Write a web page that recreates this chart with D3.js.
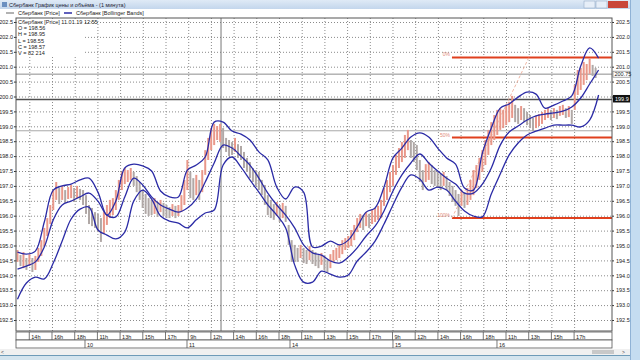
<!DOCTYPE html>
<meta charset="utf-8">
<style>
body { margin: 0; background: #fff; }
svg { display: block; font-family: "Liberation Sans", Arial, sans-serif; }
.grid line { stroke: #8a8a8a; stroke-dasharray: 1,2; }
.grid path { display: none; }
.yaxis text { font-size: 5.5px; fill: #222; }
.yaxis path { display: none; }
.yaxis line { stroke: #333; }
.band { fill: none; stroke: #2b2ba6; stroke-width: 1.3px; }
.tlab { font-size: 5.5px; fill: #222; }
</style>
<svg width="640" height="360"></svg>
<script src="https://d3js.org/d3.v7.min.js"></script>
<script>

// one price sample every bar, bands every 3 bars
var priceHigh = [194.85,194.68,194.78,194.58,194.71,194.58,194.65,194.92,195.18,195.59,
  195.92,196.36,196.86,197.13,196.93,197.00,196.86,196.96,197.03,196.93,
  197.00,196.90,196.86,196.69,196.36,196.26,196.12,196.06,195.92,196.12,
  196.36,196.53,196.59,196.86,197.20,197.47,197.60,197.53,197.60,197.47,
  197.33,197.13,196.86,196.73,196.59,196.53,196.59,196.46,196.53,196.43,
  196.36,196.29,196.39,196.33,196.36,196.69,197.20,197.87,197.47,197.26,
  197.37,197.20,197.53,198.20,198.61,198.94,199.08,199.01,199.08,198.94,
  198.61,198.54,198.47,198.61,198.40,198.34,198.14,197.94,197.80,197.60,
  197.53,197.47,197.20,197.03,196.69,196.53,196.39,196.46,196.36,196.43,
  196.33,195.69,195.18,195.02,194.92,195.02,194.92,194.85,194.98,194.85,
  194.78,194.68,194.75,194.65,194.51,194.71,194.85,194.92,195.02,195.18,
  195.25,195.32,195.52,195.69,195.92,196.06,196.02,196.12,196.06,196.19,
  196.26,196.33,196.53,196.93,197.20,197.47,197.70,198.04,198.27,198.47,
  198.71,198.88,198.54,198.47,198.37,197.87,197.53,197.73,197.80,197.70,
  197.53,197.47,197.40,197.47,197.33,197.13,197.00,196.86,196.73,196.86,
  196.79,196.93,197.20,197.53,197.70,197.94,198.20,198.54,198.88,199.14,
  199.38,199.55,199.61,199.55,199.72,199.82,200.02,199.72,199.61,199.68,
  199.61,199.48,199.38,199.28,199.35,199.41,199.48,199.55,199.61,199.55,
  199.61,199.55,199.68,199.72,199.61,199.68,199.55,200.39,200.89,200.96,
  201.16,201.09,201.29,201.06,200.96];
var priceLow = [194.45,194.31,194.24,194.18,194.31,194.11,194.18,194.45,194.65,194.98,
  195.32,195.72,196.19,196.53,196.39,196.53,196.43,196.56,196.59,196.46,
  196.59,196.53,196.36,196.06,195.72,195.65,195.59,195.45,195.12,195.39,
  195.69,195.92,196.02,196.19,196.53,196.86,197.06,197.13,197.20,197.00,
  196.79,196.53,196.26,196.06,195.99,196.02,196.06,195.96,196.12,195.99,
  195.92,195.92,195.99,195.92,195.99,196.12,196.36,196.86,196.59,196.53,
  196.69,196.53,196.79,197.37,197.87,198.20,198.37,198.54,198.47,198.27,
  198.14,198.00,198.04,198.14,197.94,197.87,197.60,197.47,197.26,197.13,
  197.00,196.86,196.69,196.36,196.02,195.92,195.86,195.99,195.79,195.92,
  195.79,195.02,194.45,194.45,194.45,194.58,194.41,194.38,194.51,194.38,
  194.31,194.24,194.35,194.18,194.11,194.24,194.45,194.51,194.58,194.71,
  194.85,194.92,194.98,195.18,195.45,195.59,195.52,195.65,195.59,195.72,
  195.79,195.86,195.92,196.33,196.53,196.79,197.00,197.37,197.60,197.80,
  197.94,198.20,197.94,197.80,197.53,197.13,196.86,197.13,197.20,197.06,
  197.00,196.93,196.86,197.00,196.86,196.66,196.46,196.33,195.99,196.33,
  196.26,196.36,196.53,196.69,196.93,197.20,197.47,197.70,198.04,198.37,
  198.54,198.71,198.88,198.94,199.04,199.14,199.28,199.14,199.08,199.21,
  199.14,199.04,198.94,198.84,198.94,199.01,199.08,199.21,199.28,199.21,
  199.28,199.24,199.35,199.38,199.28,199.31,199.08,199.55,200.05,200.22,
  200.39,200.55,200.76,200.69,200.62];

var bandUpper = [194.78,194.71,194.81,195.79,196.86,197.00,197.06,197.20,197.26,196.79,
  196.02,196.49,197.60,197.73,197.67,197.50,196.83,196.63,196.63,197.53,
  197.70,197.97,199.14,199.14,198.84,198.74,198.54,198.14,197.87,196.96,
  196.56,196.96,196.79,194.95,194.98,195.15,195.02,195.18,195.62,196.12,
  196.26,196.96,197.94,198.27,198.64,198.78,198.64,198.27,197.94,197.73,
  196.93,196.86,198.10,198.94,199.61,199.75,199.98,200.15,200.08,199.61,
  199.71,199.85,200.02,201.02,201.63,201.29];
var bandMiddle = [194.21,194.31,194.45,194.95,195.86,196.36,196.49,196.63,196.76,196.49,
  196.02,195.96,196.63,197.26,197.03,196.63,196.36,196.22,196.12,196.26,
  196.56,197.13,197.77,198.37,198.27,198.00,197.70,197.26,196.76,196.36,
  196.02,195.59,195.02,194.75,194.68,194.48,194.41,194.61,194.92,195.32,
  195.65,196.16,196.83,197.37,197.77,198.07,197.77,197.50,197.26,197.06,
  196.76,196.76,197.06,197.60,198.37,198.81,199.01,199.21,199.35,199.41,
  199.45,199.51,199.65,199.95,200.42,200.89];
var bandLower = [193.20,193.74,193.94,193.88,194.41,195.15,195.89,196.22,196.29,195.52,
  195.35,195.22,195.45,196.49,196.86,196.56,195.99,195.82,195.75,195.59,
  195.86,196.09,196.19,197.70,197.97,197.63,197.20,196.79,196.36,196.02,
  195.59,194.35,193.77,193.77,194.14,194.04,193.94,194.01,194.48,194.78,
  195.15,195.72,196.36,196.96,197.37,197.23,196.86,196.96,196.86,196.49,
  196.16,195.99,195.96,196.73,197.40,198.04,198.44,198.71,198.84,198.94,
  199.04,199.04,199.04,198.98,199.21,200.05];
var bandStep = 3;

var yTicks = [192.5,193.0,193.5,194.0,194.5,195.0,195.5,196.0,196.5,197.0,
  197.5,198.0,198.5,199.0,199.5,200.0,200.5,201.0,201.5,202.0,202.5];

var hourTicks = [4.46,12.08,19.70,27.32,34.93,42.55,50.17,57.79,65.40,73.02,
  80.64,88.26,95.87,103.49,111.11,118.72,126.34,133.96,141.58,149.19,
  156.81,164.43,172.05,179.66,187.28];
var hourLabels = ["14h","16h","18h","11h","13h","15h","17h","9h","12h","14h",
  "16h","18h","11h","13h","15h","17h","9h","12h","14h","16h",
  "18h","11h","13h","15h","17h"];
var dayTicks = [23.15,57.38,91.95,126.5,161.4];
var dayLabels = ["10","11","14","15","16"];

var fibLevels = [201.31, 198.62, 195.92];
var fibLabels = ["0%", "50%", "100%"];
var fibStart = 146.3, fibEnd = 172.1;

var lastPrice = 200.75;
var markPrice = 199.9;
var levelPrice = 198.85;
var cursorBar = 68.8;

var infoLines = ["Сбербанк [Price] 11.01.19 12:55", "O = 198.56", "H = 198.95",
  "L = 198.55", "C = 198.57", "V = 82 214"];

var svg = d3.select("svg");
var pL = 16, pR = 612, pT = 18, pB = 331;

var x = d3.scaleLinear().domain([0, 200]).range([pL, pR]);
var y = d3.scaleLinear().domain([192.5, 202.5]).range([320, 22]);

// window chrome
var tg = svg.append("defs").append("linearGradient").attr("id", "tb")
  .attr("x1", 0).attr("x2", 0).attr("y1", 0).attr("y2", 1);
tg.append("stop").attr("offset", 0).attr("stop-color", "#dfeaf6");
tg.append("stop").attr("offset", 1).attr("stop-color", "#c3d6ec");
svg.append("rect").attr("width", 640).attr("height", 9).attr("fill", "url(#tb)");
svg.append("rect").attr("x", 2).attr("y", 2).attr("width", 5).attr("height", 5).attr("fill", "#6a8fc0");
svg.append("text").attr("x", 9).attr("y", 6.5).attr("font-size", 5.5).attr("fill", "#223")
  .text("Сбербанк График цены и объёма - (1 минута)");
svg.append("rect").attr("x", 584).attr("y", 1).attr("width", 11).attr("height", 7).attr("fill", "#e6eef8").attr("stroke", "#8aa2c0").attr("stroke-width", 0.5);
svg.append("rect").attr("x", 596).attr("y", 1).attr("width", 11).attr("height", 7).attr("fill", "#e6eef8").attr("stroke", "#8aa2c0").attr("stroke-width", 0.5);
svg.append("rect").attr("x", 608).attr("y", 1).attr("width", 20).attr("height", 7).attr("fill", "#c9463a");
svg.append("rect").attr("x", 630).attr("y", 0).attr("width", 10).attr("height", 360).attr("fill", "#c4dcf1");
svg.append("rect").attr("x", 630).attr("y", 0).attr("width", 1).attr("height", 360).attr("fill", "#8fb2d6");

// legend
var lg = svg.append("g");
lg.append("line").attr("x1", 6).attr("x2", 14).attr("y1", 13).attr("y2", 13).attr("stroke", "#999").attr("stroke-width", 1.5);
lg.append("text").attr("x", 18).attr("y", 15).attr("class", "tlab").text("Сбербанк [Price]");
lg.append("line").attr("x1", 64).attr("x2", 72).attr("y1", 13).attr("y2", 13).attr("stroke", "#2b2ba6").attr("stroke-width", 1.5);
lg.append("text").attr("x", 76).attr("y", 15).attr("class", "tlab").text("Сбербанк [Bollinger Bands]");

// plot frame and grid
svg.append("rect").attr("x", pL).attr("y", pT).attr("width", pR - pL).attr("height", pB - pT)
  .attr("fill", "#fff");

svg.append("g").attr("class", "grid").attr("transform", "translate(" + pL + ",0)")
  .call(d3.axisRight(y).tickValues(yTicks).tickSize(pR - pL).tickFormat(""));
svg.append("g").attr("class", "grid").attr("transform", "translate(0," + pT + ")")
  .call(d3.axisBottom(x).tickValues(hourTicks).tickSize(pB - pT).tickFormat(""));

svg.append("g").attr("class", "yaxis").attr("transform", "translate(" + pL + ",0)")
  .call(d3.axisLeft(y).tickValues(yTicks).tickSize(2).tickPadding(1).tickFormat(d3.format(".1f")));
svg.append("g").attr("class", "yaxis").attr("transform", "translate(" + pR + ",0)")
  .call(d3.axisRight(y).tickValues(yTicks).tickSize(2).tickPadding(2).tickFormat(d3.format(".1f")));

// horizontal reference lines
[[lastPrice, "#8c8c8c", 1], [levelPrice, "#a8a8a8", 1], [markPrice, "#505050", 1.5]].forEach(function(r) {
  svg.append("line").attr("x1", pL).attr("x2", pR).attr("y1", y(r[0])).attr("y2", y(r[0]))
    .attr("stroke", r[1]).attr("stroke-width", r[2]);
});
svg.append("line").attr("x1", x(cursorBar)).attr("x2", x(cursorBar)).attr("y1", pT).attr("y2", pB)
  .attr("stroke", "#777").attr("stroke-width", 1);

// fibonacci
var fib = svg.append("g");
fib.selectAll("line.lv").data(fibLevels).enter().append("line")
  .attr("x1", x(fibStart)).attr("x2", pR)
  .attr("y1", function(d) { return y(d); }).attr("y2", function(d) { return y(d); })
  .attr("stroke", "#e0401e").attr("stroke-width", 2);
fib.selectAll("text").data(fibLevels).enter().append("text")
  .attr("x", x(fibStart) - 2).attr("y", function(d) { return y(d) - 1; })
  .attr("text-anchor", "end").attr("font-size", 5).attr("fill", "#e28a78")
  .text(function(d, i) { return fibLabels[i]; });
fib.append("line").attr("x1", x(fibStart)).attr("y1", y(fibLevels[2]))
  .attr("x2", x(fibEnd)).attr("y2", y(fibLevels[0]))
  .attr("stroke", "#eba58e").attr("stroke-width", 0.8).attr("stroke-dasharray", "3,2");

// price bars
var bars = svg.append("g");
priceHigh.forEach(function(h, i) {
  var mid = (h + priceLow[i]) / 2;
  var prev = i > 0 ? (priceHigh[i - 1] + priceLow[i - 1]) / 2 : mid;
  bars.append("line")
    .attr("x1", x(i + 0.5)).attr("x2", x(i + 0.5))
    .attr("y1", y(h)).attr("y2", y(priceLow[i]))
    .attr("stroke", mid >= prev ? "#e9988a" : "#b0a8a6")
    .attr("stroke-width", 2);
});

// bollinger bands
var line = d3.line()
  .x(function(d, i) { return x(0.5 + i * bandStep); })
  .y(function(d) { return y(d); })
  .curve(d3.curveCatmullRom.alpha(0.5));
[bandUpper, bandMiddle, bandLower].forEach(function(b) {
  svg.append("path").attr("class", "band").attr("d", line(b));
});

svg.append("rect").attr("x", pL).attr("y", pT).attr("width", pR - pL).attr("height", pB - pT)
  .attr("fill", "none").attr("stroke", "#555").attr("stroke-width", 1);

// price markers on right axis (the dark one covers the 200.0 label, as in the terminal)
svg.append("rect").attr("x", pR + 1).attr("y", y(lastPrice) - 3).attr("width", 17).attr("height", 6)
  .attr("fill", "#fff").attr("stroke", "#555").attr("stroke-width", 0.5);
svg.append("text").attr("x", pR + 2.5).attr("y", y(lastPrice) + 2).attr("font-size", 5.5).attr("fill", "#222").text(lastPrice.toFixed(2));
svg.append("rect").attr("x", pR + 1).attr("y", y(markPrice) - 4.5).attr("width", 17).attr("height", 7.5).attr("fill", "#111");
svg.append("text").attr("x", pR + 3).attr("y", y(markPrice) + 1.5).attr("font-size", 5.5).attr("fill", "#fff").text(markPrice.toFixed(1));

// info box
var info = svg.append("g");
info.append("rect").attr("x", pL + 1).attr("y", pT + 1).attr("width", 68).attr("height", 38).attr("fill", "#fff");
info.selectAll("text").data(infoLines).enter().append("text")
  .attr("x", pL + 2).attr("y", function(d, i) { return pT + 6 + i * 6.2; })
  .attr("class", "tlab").text(function(d) { return d; });

// time axis
var ta = svg.append("g");
ta.append("rect").attr("x", pL).attr("y", 332).attr("width", pR - pL).attr("height", 8).attr("fill", "#fff").attr("stroke", "#555").attr("stroke-width", 0.8);
ta.append("rect").attr("x", pL).attr("y", 340).attr("width", pR - pL).attr("height", 8).attr("fill", "#fff").attr("stroke", "#555").attr("stroke-width", 0.8);
ta.selectAll("line.h").data(hourTicks).enter().append("line")
  .attr("x1", function(d) { return x(d); }).attr("x2", function(d) { return x(d); })
  .attr("y1", 332).attr("y2", 340).attr("stroke", "#555").attr("stroke-width", 0.8);
ta.selectAll("text.h").data(hourTicks).enter().append("text")
  .attr("x", function(d) { return x(d) + 2; }).attr("y", 338.5).attr("class", "tlab")
  .text(function(d, i) { return hourLabels[i]; });
ta.selectAll("line.d").data(dayTicks).enter().append("line")
  .attr("x1", function(d) { return x(d); }).attr("x2", function(d) { return x(d); })
  .attr("y1", 340).attr("y2", 348).attr("stroke", "#555").attr("stroke-width", 0.8);
ta.selectAll("text.d").data(dayTicks).enter().append("text")
  .attr("x", function(d) { return x(d) + 2; }).attr("y", 346.5).attr("class", "tlab")
  .text(function(d, i) { return dayLabels[i]; });

// scrollbar and bottom strip
svg.append("rect").attr("x", 0).attr("y", 349).attr("width", 630).attr("height", 6).attr("fill", "#f0f0f0");
svg.append("rect").attr("x", 592).attr("y", 350).attr("width", 22).attr("height", 4).attr("fill", "#c8c8c8");
svg.append("text").attr("x", 1).attr("y", 354).attr("font-size", 5).attr("fill", "#444").text("<");
svg.append("text").attr("x", 622).attr("y", 354).attr("font-size", 5).attr("fill", "#444").text(">");
svg.append("rect").attr("x", 0).attr("y", 355).attr("width", 630).attr("height", 5).attr("fill", "#d4e4ee");
svg.append("rect").attr("x", 0).attr("y", 355).attr("width", 630).attr("height", 1).attr("fill", "#6e9bb8");

</script>
